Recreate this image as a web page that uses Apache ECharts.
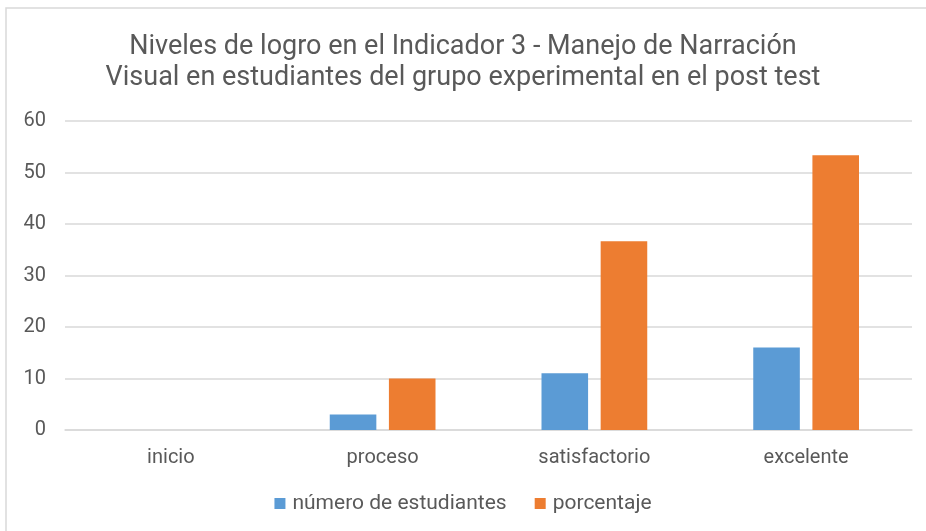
<!DOCTYPE html>
<html>
<head>
<meta charset="utf-8">
<script src="https://cdn.jsdelivr.net/npm/echarts@6/dist/echarts.min.js"></script>
<style>
  html, body { margin: 0; padding: 0; background: #fff; }
  #chart { width: 926px; height: 531px; }
</style>
</head>
<body>
<div id="chart"></div>
<script>
// datos
const categorias = ['inicio', 'proceso', 'satisfactorio', 'excelente']
const numeroEstudiantes = [0, 3, 11, 16]
const porcentaje = [0, 10, 36.67, 53.33]
const yTicks = { min: 0, max: 60, interval: 10 }

const fuente = 'Roboto, sans-serif'
const gris = '#595959'

const option = {
  animation: false,
  textStyle: { fontFamily: fuente },
  title: {
    text: 'Niveles de logro en el Indicador 3 - Manejo de Narración\nVisual en estudiantes del grupo experimental en el post test',
    left: 'center',
    top: 27,
    textStyle: {
      fontFamily: fuente,
      fontSize: 27,
      fontWeight: 'normal',
      color: gris,
      lineHeight: 31
    }
  },
  legend: {
    bottom: 12,
    left: 'center',
    itemWidth: 11,
    itemHeight: 11,
    itemGap: 28,
    icon: 'rect',
    textStyle: { fontFamily: fuente, fontSize: 21, color: gris, padding: [2, 0, 0, 2] }
  },
  grid: {
    left: 65,
    right: 14,
    top: 121,
    bottom: 101,
    containLabel: false
  },
  xAxis: {
    type: 'category',
    data: categorias,
    axisLine: { lineStyle: { color: '#D9D9D9', width: 1.5 } },
    axisTick: { show: false },
    axisLabel: { fontFamily: fuente, fontSize: 20, color: gris, margin: 18 }
  },
  yAxis: {
    type: 'value',
    min: yTicks.min,
    max: yTicks.max,
    interval: yTicks.interval,
    axisLine: { show: false },
    axisTick: { show: false },
    axisLabel: { fontFamily: fuente, fontSize: 20, color: gris, margin: 19 },
    splitLine: { lineStyle: { color: '#D9D9D9', width: 1.5 } }
  },
  graphic: [
    {
      type: 'rect',
      shape: { x: 6, y: 8, width: 940, height: 540 },
      style: { fill: 'none', stroke: '#D9D9D9', lineWidth: 1.5 },
      silent: true,
      z: -1
    }
  ],
  series: [
    {
      name: 'número de estudiantes',
      type: 'bar',
      data: numeroEstudiantes,
      barWidth: '22%',
      barGap: '27%',
      itemStyle: { color: '#5B9BD5' }
    },
    {
      name: 'porcentaje',
      type: 'bar',
      data: porcentaje,
      barWidth: '22%',
      itemStyle: { color: '#ED7D31' }
    }
  ]
}

const chart = echarts.init(document.getElementById('chart'))
chart.setOption(option)
</script>
</body>
</html>
